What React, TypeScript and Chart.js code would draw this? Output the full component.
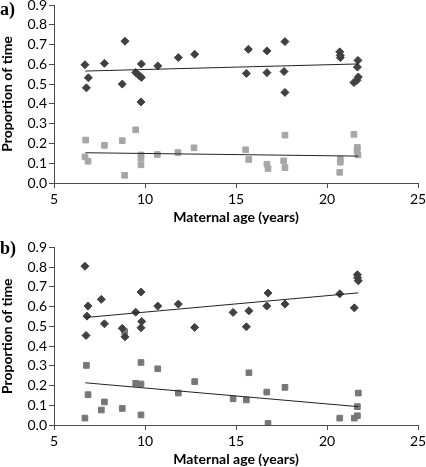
import React, { useEffect, useRef } from 'react';
import { Chart, registerables } from 'chart.js';

Chart.register(...registerables);

// Panel a) — diamonds (upper series) and squares (lower series)
const aDiamondX = [6.70, 6.89, 6.78, 7.77, 8.90, 8.75, 9.49, 9.67, 9.80, 9.80, 9.78, 10.70, 11.83, 12.73, 15.57, 15.68, 16.70, 16.70, 17.69, 17.64, 17.69, 20.70, 20.73, 20.73, 21.70, 21.67, 21.48, 21.65, 21.72];
const aDiamondY = [0.598, 0.532, 0.481, 0.605, 0.717, 0.500, 0.559, 0.544, 0.534, 0.602, 0.410, 0.592, 0.634, 0.651, 0.554, 0.676, 0.668, 0.558, 0.715, 0.564, 0.458, 0.663, 0.646, 0.634, 0.620, 0.586, 0.508, 0.519, 0.536];
const aSquareX = [6.74, 6.70, 6.87, 7.77, 8.75, 8.88, 9.49, 9.78, 9.78, 9.78, 10.68, 11.81, 12.69, 15.53, 15.70, 16.70, 16.76, 17.62, 17.69, 17.69, 20.70, 20.73, 20.73, 21.48, 21.65, 21.67, 21.70];
const aSquareY = [0.217, 0.132, 0.110, 0.190, 0.214, 0.039, 0.269, 0.142, 0.125, 0.092, 0.144, 0.154, 0.178, 0.168, 0.119, 0.095, 0.073, 0.112, 0.242, 0.078, 0.054, 0.105, 0.120, 0.246, 0.163, 0.180, 0.142];
const aDiamondTrendX = [6.72, 21.72];
const aDiamondTrendY = [0.566, 0.602];
const aSquareTrendX = [6.72, 21.72];
const aSquareTrendY = [0.153, 0.136];

// Panel b)
const bDiamondX = [6.70, 6.87, 6.81, 6.76, 7.60, 7.77, 8.75, 8.90, 9.49, 9.78, 9.82, 9.78, 10.70, 11.83, 12.73, 14.84, 15.57, 15.71, 16.69, 16.76, 17.69, 20.70, 21.50, 21.67, 21.68, 21.72];
const bDiamondY = [0.805, 0.603, 0.552, 0.454, 0.637, 0.513, 0.490, 0.447, 0.572, 0.674, 0.525, 0.493, 0.603, 0.613, 0.495, 0.571, 0.498, 0.579, 0.603, 0.669, 0.613, 0.665, 0.594, 0.762, 0.746, 0.731];
const bSquareX = [6.70, 6.78, 6.87, 7.60, 7.77, 8.75, 8.88, 9.49, 9.78, 9.78, 9.78, 10.70, 11.83, 12.73, 14.84, 15.57, 15.71, 16.69, 16.76, 17.69, 20.70, 21.50, 21.67, 21.67, 21.72];
const bSquareY = [0.035, 0.302, 0.154, 0.076, 0.117, 0.084, 0.473, 0.211, 0.317, 0.208, 0.051, 0.285, 0.162, 0.220, 0.133, 0.127, 0.265, 0.167, 0.008, 0.191, 0.035, 0.035, 0.047, 0.093, 0.162];
const bDiamondTrendX = [6.72, 21.72];
const bDiamondTrendY = [0.545, 0.670];
const bSquareTrendX = [6.72, 21.72];
const bSquareTrendY = [0.214, 0.093];

const xTicks = [5, 10, 15, 20, 25];
const yTicks = [0, 0.1, 0.2, 0.3, 0.4, 0.5, 0.6, 0.7, 0.8, 0.9];
const xTitle = 'Maternal age (years)';
const yTitle = 'Proportion of time';

const FONT = 'Lato';
const AXIS = '#4a4a4a';

function pts(xs: number[], ys: number[]) {
  return xs.map((x, i) => ({ x, y: ys[i] }));
}

interface PanelProps {
  dX: number[]; dY: number[]; sX: number[]; sY: number[];
  dtX: number[]; dtY: number[]; stX: number[]; stY: number[];
  squareColor: string; padTop: number; height: number; top: number;
}

function Panel(p: PanelProps) {
  const ref = useRef<HTMLCanvasElement | null>(null);
  useEffect(() => {
    if (!ref.current) return;
    const trend = (xs: number[], ys: number[]) => ({
      type: 'line' as const,
      data: pts(xs, ys),
      showLine: true,
      borderColor: '#222222',
      borderWidth: 1,
      pointRadius: 0,
      fill: false,
    });
    const chart = new Chart(ref.current, {
      type: 'scatter',
      data: {
        datasets: [
          trend(p.dtX, p.dtY) as any,
          trend(p.stX, p.stY) as any,
          {
            data: pts(p.dX, p.dY),
            pointStyle: 'rectRot',
            pointRadius: 4,
            borderWidth: 1,
            backgroundColor: '#404040',
            borderColor: '#404040',
          },
          {
            data: pts(p.sX, p.sY),
            pointStyle: 'rect',
            pointRadius: 4,
            borderWidth: 1,
            backgroundColor: p.squareColor,
            borderColor: p.squareColor,
          },
        ],
      },
      options: {
        animation: false,
        responsive: false,
        maintainAspectRatio: false,
        layout: { padding: { top: p.padTop, right: 8, left: 0, bottom: 0 } },
        plugins: { legend: { display: false }, tooltip: { enabled: false } },
        scales: {
          x: {
            type: 'linear',
            min: 5,
            max: 25,
            afterBuildTicks: (s: any) => { s.ticks = xTicks.map((v) => ({ value: v })); },
            afterFit: (s: any) => { s.height = 42; s.paddingLeft = 0; s.paddingRight = 0; },
            grid: { drawOnChartArea: false, tickLength: 5, color: AXIS },
            border: { color: AXIS, width: 1 },
            ticks: { autoSkip: false, padding: 3, color: '#000', font: { family: FONT, size: 14 }, maxRotation: 0 },
            title: {
              display: true, text: xTitle, color: '#000',
              font: { family: FONT, size: 14, weight: 'bold', lineHeight: 1 },
              padding: { top: 0, bottom: 1 },
            },
          },
          y: {
            type: 'linear',
            min: 0,
            max: 0.9,
            afterBuildTicks: (s: any) => { s.ticks = yTicks.map((v) => ({ value: v })); },
            afterFit: (s: any) => { s.width = 54; s.paddingTop = 0; s.paddingBottom = 0; },
            grid: { drawOnChartArea: false, tickLength: 5, color: AXIS },
            border: { color: AXIS, width: 1 },
            ticks: {
              autoSkip: false,
              padding: 2, color: '#000', font: { family: FONT, size: 14 },
              callback: (v: any) => Number(v).toFixed(1),
            },
            title: {
              display: true, text: yTitle, color: '#000',
              font: { family: FONT, size: 14, weight: 'bold', lineHeight: 1 },
              padding: { top: 0, bottom: 0 },
            },
          },
        },
      },
    });
    return () => chart.destroy();
  }, []);
  return (
    <canvas
      ref={ref}
      width={426}
      height={p.height}
      style={{ position: 'absolute', left: 0, top: p.top, width: 426, height: p.height }}
    />
  );
}

const labelStyle: React.CSSProperties = {
  position: 'absolute',
  left: 0,
  fontFamily: '"Liberation Serif", serif',
  fontWeight: 'bold',
  fontSize: 18,
  lineHeight: '18px',
  color: '#000',
};

export default function App() {
  return (
    <div style={{ position: 'absolute', left: 0, top: 0, width: 426, height: 467, background: '#fff', overflow: 'hidden' }}>
      <Panel dX={aDiamondX} dY={aDiamondY} sX={aSquareX} sY={aSquareY}
        dtX={aDiamondTrendX} dtY={aDiamondTrendY} stX={aSquareTrendX} stY={aSquareTrendY}
        squareColor="#a6a6a6" padTop={5} height={225} top={0} />
      <Panel dX={bDiamondX} dY={bDiamondY} sX={bSquareX} sY={bSquareY}
        dtX={bDiamondTrendX} dtY={bDiamondTrendY} stX={bSquareTrendX} stY={bSquareTrendY}
        squareColor="#777777" padTop={7.5} height={227} top={240} />
      <div style={{ ...labelStyle, top: 0 }}>a)</div>
      <div style={{ ...labelStyle, top: 239 }}>b)</div>
    </div>
  );
}
